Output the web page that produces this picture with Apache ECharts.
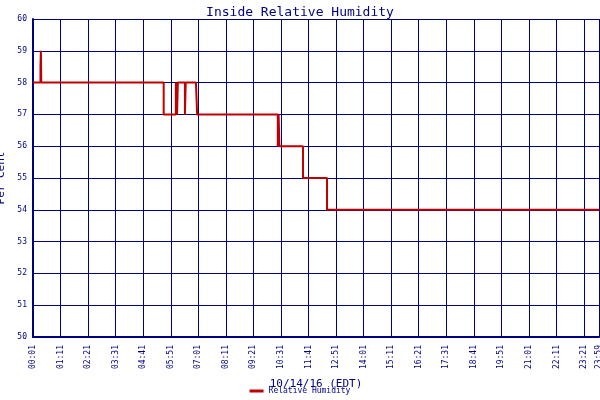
<!DOCTYPE html>
<html>
<head>
<meta charset="UTF-8" />
<style>
  * { margin: 0; padding: 0; }
  #main { width: 600px; height: 400px; background: #fff; }
</style>
</head>
<body>
<div id="main"></div>
<script src="https://cdn.jsdelivr.net/npm/echarts@6/dist/echarts.min.js"></script>
<script>
  // minutes after 00:01 and humidity value (%)
  const minutes = [0, 19, 20, 21, 332, 334, 363, 366, 368, 372, 386, 388, 414, 417, 622, 624, 626, 628, 686, 747, 1438];
  const humidity = [58, 58.5, 59, 58, 57, 57, 58, 57, 58, 58, 57, 58, 58, 57, 56, 57, 56, 56, 55, 54, 54];

  const navy = "#000080";
  const font = "DejaVu Sans Mono";

  function label(v) {
    const t = v + 1;
    const h = Math.floor(t / 60) % 24, m = t % 60;
    return String(h).padStart(2, "0") + ":" + String(m).padStart(2, "0");
  }

  const chart = echarts.init(document.getElementById("main"));
  chart.setOption({
    animation: false,
    title: {
      text: "Inside Relative Humidity",
      left: "center", top: 1,
      textStyle: { color: navy, fontFamily: font, fontSize: 13, fontWeight: "normal" }
    },
    grid: { left: 33, right: 1, top: 19, bottom: 63, outerBoundsMode: "none", containLabel: false },
    xAxis: {
      type: "value", min: 0, max: 1438, interval: 70,
      name: "10/14/16 (EDT)", nameLocation: "middle", nameGap: 42,
      nameTextStyle: { color: navy, fontFamily: font, fontSize: 11 },
      axisLine: { lineStyle: { color: navy, width: 2 } },
      axisTick: { show: false },
      axisLabel: { rotate: 90, color: navy, fontFamily: font, fontSize: 8, showMaxLabel: true, formatter: label },
      splitLine: { lineStyle: { color: navy, width: 1 } }
    },
    yAxis: {
      type: "value", min: 50, max: 60, interval: 1,
      name: "Per Cent", nameLocation: "middle", nameGap: 24,
      nameTextStyle: { color: navy, fontFamily: font, fontSize: 11 },
      axisLine: { show: true, lineStyle: { color: navy, width: 2 } },
      axisTick: { show: false },
      axisLabel: { color: navy, fontFamily: font, fontSize: 8, margin: 6 },
      splitLine: { lineStyle: { color: navy, width: 1 } }
    },
    legend: {
      bottom: 0, left: "center", itemWidth: 14, itemHeight: 3,
      textStyle: { color: navy, fontFamily: font, fontSize: 8 },
      icon: "rect"
    },
    series: [{
      name: "Relative Humidity",
      type: "line", step: "end", showSymbol: false,
      lineStyle: { color: "#c00000", width: 2 },
      itemStyle: { color: "#c00000" },
      data: minutes.map((m, i) => [m, humidity[i]])
    }]
  });
</script>
</body>
</html>
